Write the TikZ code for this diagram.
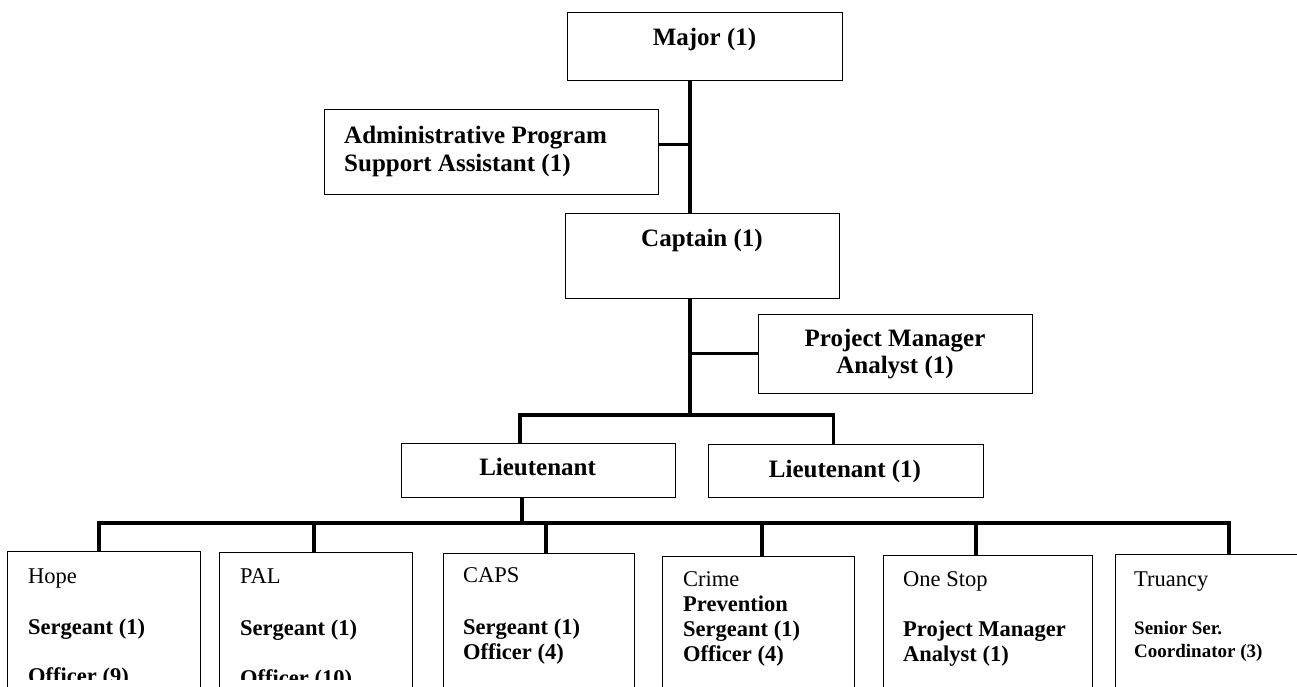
\documentclass[tikz,border=0pt]{standalone}
\usepackage{fontspec}
\setmainfont{Liberation Serif}
\begin{document}
\begin{tikzpicture}[x=1pt,y=-1pt,
  box/.style={draw, line width=1.4pt, inner sep=0pt, anchor=north west},
  link/.style={line width=3.2pt},
  hdtext/.style={font=\fontsize{25}{28}\selectfont\bfseries, inner sep=0pt, anchor=base},
  hdleft/.style={hdtext, anchor=base west},
  unit/.style={font=\fontsize{22.5}{25}\selectfont, inner sep=0pt, anchor=base west},
  rank/.style={unit, font=\fontsize{22.5}{25}\selectfont\bfseries},
  small/.style={unit, font=\fontsize{19}{21}\selectfont\bfseries},
]
\useasboundingbox (0,0) rectangle (1297,686);
\clip (0,0) rectangle (1297,686);

% upper command boxes
\node[box, minimum width=275, minimum height=68.5] (major) at (567,11.5) {};
\node[box, minimum width=333.5, minimum height=85] (admin) at (324,109) {};
\node[box, minimum width=274, minimum height=85] (captain) at (565,213) {};
\node[box, minimum width=274, minimum height=79] (pm) at (758,313.5) {};
\node[box, minimum width=274, minimum height=54] (lta) at (400.6,443) {};
\node[box, minimum width=274.6, minimum height=53] (ltb) at (708,444) {};

% unit boxes, running past the lower edge
\node[box, minimum width=193, minimum height=200] (hope) at (7,551) {};
\node[box, minimum width=193, minimum height=200] (pal) at (219,552) {};
\node[box, minimum width=191, minimum height=200] (caps) at (443,553) {};
\node[box, minimum width=192, minimum height=200] (crime) at (662,556) {};
\node[box, minimum width=209, minimum height=200] (onestop) at (883,555) {};
\node[box, minimum width=200, minimum height=200] (truancy) at (1115,554) {};

% labels of the upper boxes
\node[hdtext] (majorT) at (704.5,45.5) {Major (1)};
\node[hdleft] (adminA) at (344,143.3) {Administrative Program};
\node[hdleft] (adminB) at (344,171.7) {Support Assistant (1)};
\node[hdtext] (captainT) at (702,246.7) {Captain (1)};
\node[hdtext] (pmA) at (895,346) {Project Manager};
\node[hdtext] (pmB) at (895,373.7) {Analyst (1)};
\node[hdtext] (ltaT) at (537.6,475) {Lieutenant};
\node[hdtext] (ltbT) at (845,477.3) {Lieutenant (1)};

% spine and junction points
\coordinate (spine) at (690,0);
\coordinate (ltbus) at (0,415);
\coordinate (unitbus) at (0,523);
\coordinate (ltadrop) at (520,0);
\coordinate (ltbdrop) at (833.5,0);
\coordinate (ltdown) at (522,0);

\draw[link] (major.south -| spine) -- (captain.north -| spine);
\draw[link] ([yshift=7.5]admin.east) -- ([yshift=7.5]admin.east -| spine);
\draw[link] (captain.south -| spine) -- (ltbus -| spine);
\draw[link] (pm.west) -- (pm.west -| spine);
\draw[link] (lta.north -| ltadrop) -- (ltbus -| ltadrop) -- (ltbus -| ltbdrop) -- (ltb.north -| ltbdrop);
\draw[link] (lta.south -| ltdown) -- (unitbus -| ltdown);

\coordinate (hopeDrop) at (99,0);
\coordinate (palDrop) at (314,0);
\coordinate (capsDrop) at (546,0);
\coordinate (crimeDrop) at (762,0);
\coordinate (oneDrop) at (976,0);
\coordinate (truDrop) at (1229,0);
\draw[link] (hope.north -| hopeDrop) -- (unitbus -| hopeDrop) -- (unitbus -| truDrop) -- (truancy.north -| truDrop);
\draw[link] (unitbus -| palDrop) -- (pal.north -| palDrop);
\draw[link] (unitbus -| capsDrop) -- (caps.north -| capsDrop);
\draw[link] (unitbus -| crimeDrop) -- (crime.north -| crimeDrop);
\draw[link] (unitbus -| oneDrop) -- (onestop.north -| oneDrop);

% unit texts, cut off by the text frame above the lower edge
\begin{scope}
\clip (0,0) rectangle (1297,679.5);
\node[unit] (hopeA) at (28,583) {Hope};
\node[rank] (hopeB) at (28,634) {Sergeant (1)};
\node[rank] (hopeC) at (28,683.5) {Officer (9)};

\node[unit] (palA) at (240,583.5) {PAL};
\node[rank] (palB) at (240,635) {Sergeant (1)};
\node[rank] (palC) at (240,685.5) {Officer (10)};

\node[unit] (capsA) at (463,582.7) {CAPS};
\node[rank] (capsB) at (463,634.5) {Sergeant (1)};
\node[rank] (capsC) at (463,659.5) {Officer (4)};

\node[unit] (crimeA) at (683,586.7) {Crime};
\node[rank] (crimeB) at (683,611.7) {Prevention};
\node[rank] (crimeC) at (683,636.5) {Sergeant (1)};
\node[rank] (crimeD) at (683,661.5) {Officer (4)};

\node[unit] (oneA) at (903,586) {One Stop};
\node[rank] (oneB) at (903,636.7) {Project Manager};
\node[rank] (oneC) at (903,661.5) {Analyst (1)};

\node[unit] (truA) at (1134,586) {Truancy};
\node[small] (truB) at (1134,634.5) {Senior Ser.};
\node[small] (truC) at (1134,657.5) {Coordinator (3)};
\end{scope}
\end{tikzpicture}
\end{document}
